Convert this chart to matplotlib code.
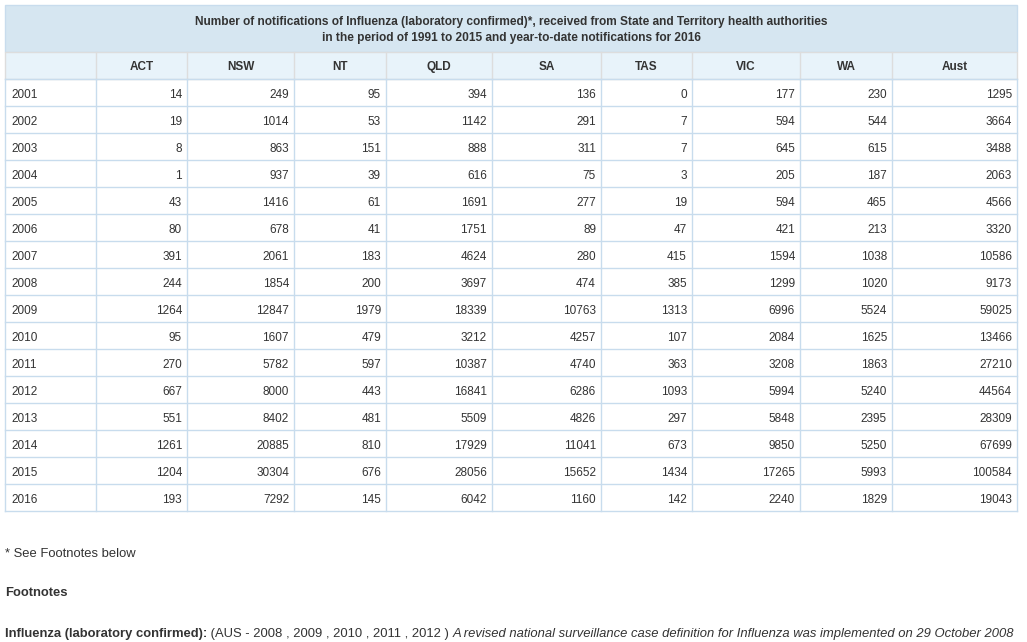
import matplotlib
matplotlib.use('Agg')
import matplotlib.pyplot as plt
from matplotlib.patches import Rectangle

plt.rcParams['font.family'] = ['Liberation Sans', 'DejaVu Sans']

# table data
title_1 = 'Number of notifications of Influenza (laboratory confirmed)*, received from State and Territory health authorities'
title_2 = 'in the period of 1991 to 2015 and year-to-date notifications for 2016'
states = ['ACT', 'NSW', 'NT', 'QLD', 'SA', 'TAS', 'VIC', 'WA', 'Aust']
years = [2001, 2002, 2003, 2004, 2005, 2006, 2007, 2008, 2009, 2010, 2011, 2012, 2013, 2014, 2015, 2016]
act = [14, 19, 8, 1, 43, 80, 391, 244, 1264, 95, 270, 667, 551, 1261, 1204, 193]
nsw = [249, 1014, 863, 937, 1416, 678, 2061, 1854, 12847, 1607, 5782, 8000, 8402, 20885, 30304, 7292]
nt = [95, 53, 151, 39, 61, 41, 183, 200, 1979, 479, 597, 443, 481, 810, 676, 145]
qld = [394, 1142, 888, 616, 1691, 1751, 4624, 3697, 18339, 3212, 10387, 16841, 5509, 17929, 28056, 6042]
sa = [136, 291, 311, 75, 277, 89, 280, 474, 10763, 4257, 4740, 6286, 4826, 11041, 15652, 1160]
tas = [0, 7, 7, 3, 19, 47, 415, 385, 1313, 107, 363, 1093, 297, 673, 1434, 142]
vic = [177, 594, 645, 205, 594, 421, 1594, 1299, 6996, 2084, 3208, 5994, 5848, 9850, 17265, 2240]
wa = [230, 544, 615, 187, 465, 213, 1038, 1020, 5524, 1625, 1863, 5240, 2395, 5250, 5993, 1829]
aust = [1295, 3664, 3488, 2063, 4566, 3320, 10586, 9173, 59025, 13466, 27210, 44564, 28309, 67699, 100584, 19043]
columns = [act, nsw, nt, qld, sa, tas, vic, wa, aust]

# layout in pixels
col_edges = [5, 96, 187, 294, 386, 492, 601, 692, 800, 892, 1017]
title_top, head_top, body_top, row_h = 5, 52, 79, 27
txt = '#333333'
line_c = '#c8dced'

fig = plt.figure(figsize=(10.27, 6.42), dpi=100)
ax = fig.add_axes([0, 0, 1, 1])
ax.set_xlim(0, 1027)
ax.set_ylim(642, 0)
ax.axis('off')

left, right = col_edges[0], col_edges[-1]
# title band
ax.add_patch(Rectangle((left, title_top), right - left, head_top - title_top,
                       facecolor='#d6e6f1', edgecolor=line_c, lw=1))
ax.text((left + right) / 2, 21.5, title_1, ha='center', va='center', fontsize=8.6, weight='bold', color=txt)
ax.text((left + right) / 2, 38, title_2, ha='center', va='center', fontsize=8.6, weight='bold', color=txt)

# header row
ax.add_patch(Rectangle((left, head_top), right - left, body_top - head_top,
                       facecolor='#e8f3fa', edgecolor='#dddddd', lw=1))
for i, s in enumerate(states):
    x0, x1 = col_edges[i + 1], col_edges[i + 2]
    ax.plot([x0, x0], [head_top, body_top], color='#dddddd', lw=1)
    ax.text((x0 + x1) / 2, 67, s, ha='center', va='center',
            fontsize=8.5, weight='bold', color=txt)

# body
bottom = body_top + row_h * len(years)
for r, yr in enumerate(years):
    y0 = body_top + row_h * r
    ax.plot([left, right], [y0 + row_h, y0 + row_h], color=line_c, lw=1)
    yc = y0 + 16
    ax.text(left + 6, yc, str(yr), ha='left', va='center', fontsize=8.5, color=txt)
    for c, vals in enumerate(columns):
        ax.text(col_edges[c + 2] - 5, yc, str(vals[r]), ha='right', va='center', fontsize=8.5, color=txt)
for x in col_edges:
    ax.plot([x, x], [body_top, bottom], color=line_c, lw=1)
ax.plot([left, right], [body_top, body_top], color=line_c, lw=1)

# footnotes
ax.text(5, 554, '* See Footnotes below', ha='left', va='center', fontsize=9.4, color=txt)
ax.text(5, 593.5, 'Footnotes', ha='left', va='center', fontsize=9.4, weight='bold', color=txt)
t1 = ax.text(5, 634.5, 'Influenza (laboratory confirmed):', ha='left', va='center',
             fontsize=9.4, weight='bold', color=txt)
t2 = ax.annotate(' (AUS - 2008 , 2009 , 2010 , 2011 , 2012 ) ', xy=(1, 0.5), xycoords=t1,
                 ha='left', va='center', fontsize=9.4, color=txt)
ax.annotate('A revised national surveillance case definition for Influenza was implemented on 29 October 2008',
            xy=(1, 0.5), xycoords=t2, ha='left', va='center', fontsize=9.4, style='italic', color=txt)

fig.savefig('out.png', dpi=100)
